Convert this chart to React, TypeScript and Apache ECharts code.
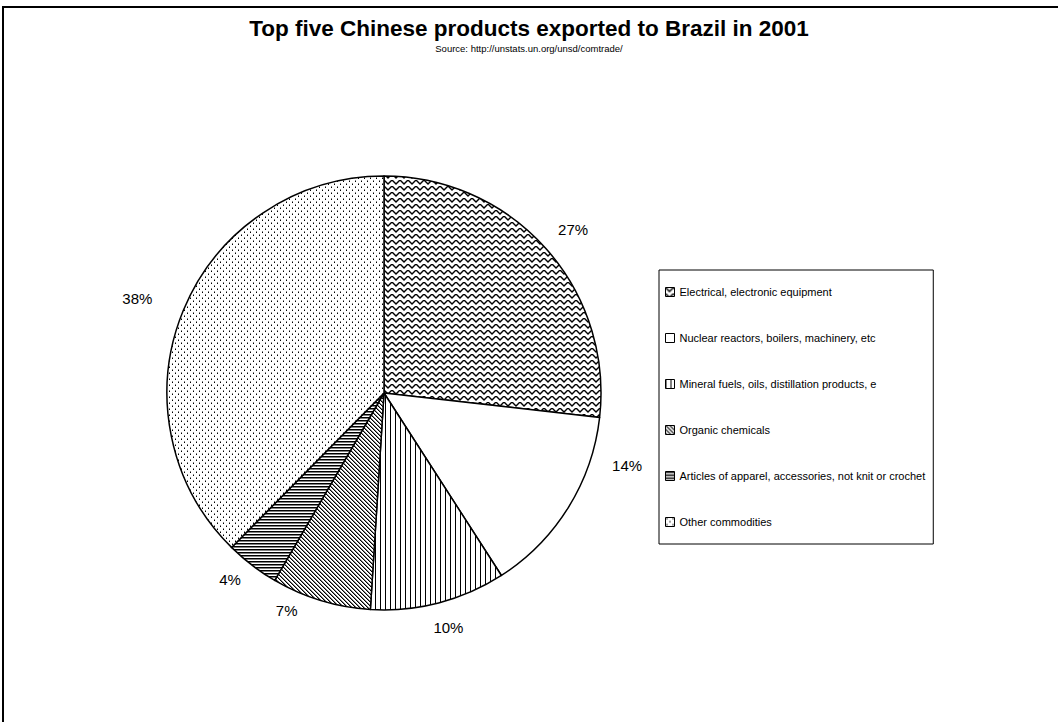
import React, { useEffect, useRef } from "react";
import * as echarts from "echarts";

const TITLE = "Top five Chinese products exported to Brazil in 2001";
const SUBTITLE = "Source: http://unstats.un.org/unsd/comtrade/";

const categories = [
  "Electrical, electronic equipment",
  "Nuclear reactors, boilers, machinery, etc",
  "Mineral fuels, oils, distillation products, e",
  "Organic chemicals",
  "Articles of apparel, accessories, not knit or crochet",
  "Other commodities",
];
const shares = [26.8, 14.1, 10.1, 7.4, 4.0, 37.6];

// label nudges (styling only), in px
const labelNudges: [number, number][] = [
  [-4, -9],
  [26, -50],
  [-14, 10],
  [-14, -4],
  [3, 2],
  [-12, -6],
];

// pixel tiles for the Excel-like fill patterns (k = black, g = gray, . = white)
const tiles: string[][] = [
  [
    "kg....gk",
    "gkg..gkg",
    ".gkggkg.",
    "..gkkg..",
    "...gg...",
    "........",
  ],
  ["."],
  ["k....", "k....", "k....", "k....", "k...."],
  ["kg..", ".kg.", "..kg", "g..k"],
  ["k", "g", "."],
  [
    ".g....",
    ".k....",
    "......",
    "....g.",
    "....k.",
    "......",
  ],
];

const FONT = 'Arial, "Liberation Sans", Helvetica, sans-serif';

function tileToPattern(rows: string[]) {
  const h = rows.length;
  const w = rows[0].length;
  const c = document.createElement("canvas");
  c.width = w;
  c.height = h;
  const ctx = c.getContext("2d")!;
  for (let y = 0; y < h; y++) {
    for (let x = 0; x < w; x++) {
      const ch = rows[y][x];
      ctx.fillStyle = ch === "k" ? "#000000" : ch === "g" ? "#808080" : "#ffffff";
      ctx.fillRect(x, y, 1, 1);
    }
  }
  return {
    image: c.toDataURL(),
    repeat: "repeat",
    imageWidth: w,
    imageHeight: h,
  } as any;
}

export default function App() {
  const ref = useRef<HTMLDivElement>(null);
  useEffect(() => {
    if (!ref.current) return;
    const chart = echarts.init(ref.current, undefined, { renderer: "svg" });
    const patterns = tiles.map(tileToPattern);
    const data = categories.map((name, i) => ({
      name,
      value: shares[i],
      itemStyle: { color: patterns[i] },
      label: { offset: labelNudges[i] },
    }));
    chart.setOption({
      animation: false,
      backgroundColor: "#ffffff",
      title: {
        text: TITLE,
        subtext: SUBTITLE,
        left: "center",
        top: 12,
        itemGap: 3,
        textStyle: { fontFamily: FONT, fontSize: 22.5, fontWeight: "bold", color: "#000" },
        subtextStyle: { fontFamily: FONT, fontSize: 9.5, color: "#000" },
      },
      legend: {
        orient: "vertical",
        left: 659,
        top: 270,
        padding: [15, 8, 15, 6],
        borderColor: "#000",
        borderWidth: 1,
        itemWidth: 9,
        itemHeight: 9,
        itemGap: 32,
        icon: "rect",
        selectedMode: false,
        itemStyle: { borderColor: "#000", borderWidth: 1 },
        textStyle: { fontFamily: FONT, fontSize: 11, color: "#000", lineHeight: 14 },
        data: categories,
      },
      graphic: [
        {
          type: "rect",
          shape: { x: 3, y: 7, width: 1200, height: 900 },
          style: { fill: "none", stroke: "#000", lineWidth: 2 },
          silent: true,
        },
      ],
      series: [
        {
          type: "pie",
          center: [384, 393],
          radius: 217,
          startAngle: 90,
          clockwise: true,
          avoidLabelOverlap: false,
          itemStyle: { borderColor: "#000", borderWidth: 1.5 },
          label: {
            show: true,
            position: "outside",
            fontFamily: FONT,
            fontSize: 15,
            color: "#000",
            formatter: (p: any) => Math.round(p.percent) + "%",
          },
          labelLine: { show: false, length: 15, length2: 0 },
          emphasis: { disabled: true },
          data,
        },
      ],
    });
    return () => chart.dispose();
  }, []);
  return (
    <div
      ref={ref}
      style={{ position: "fixed", left: 0, top: 0, width: 1058, height: 722 }}
    />
  );
}
